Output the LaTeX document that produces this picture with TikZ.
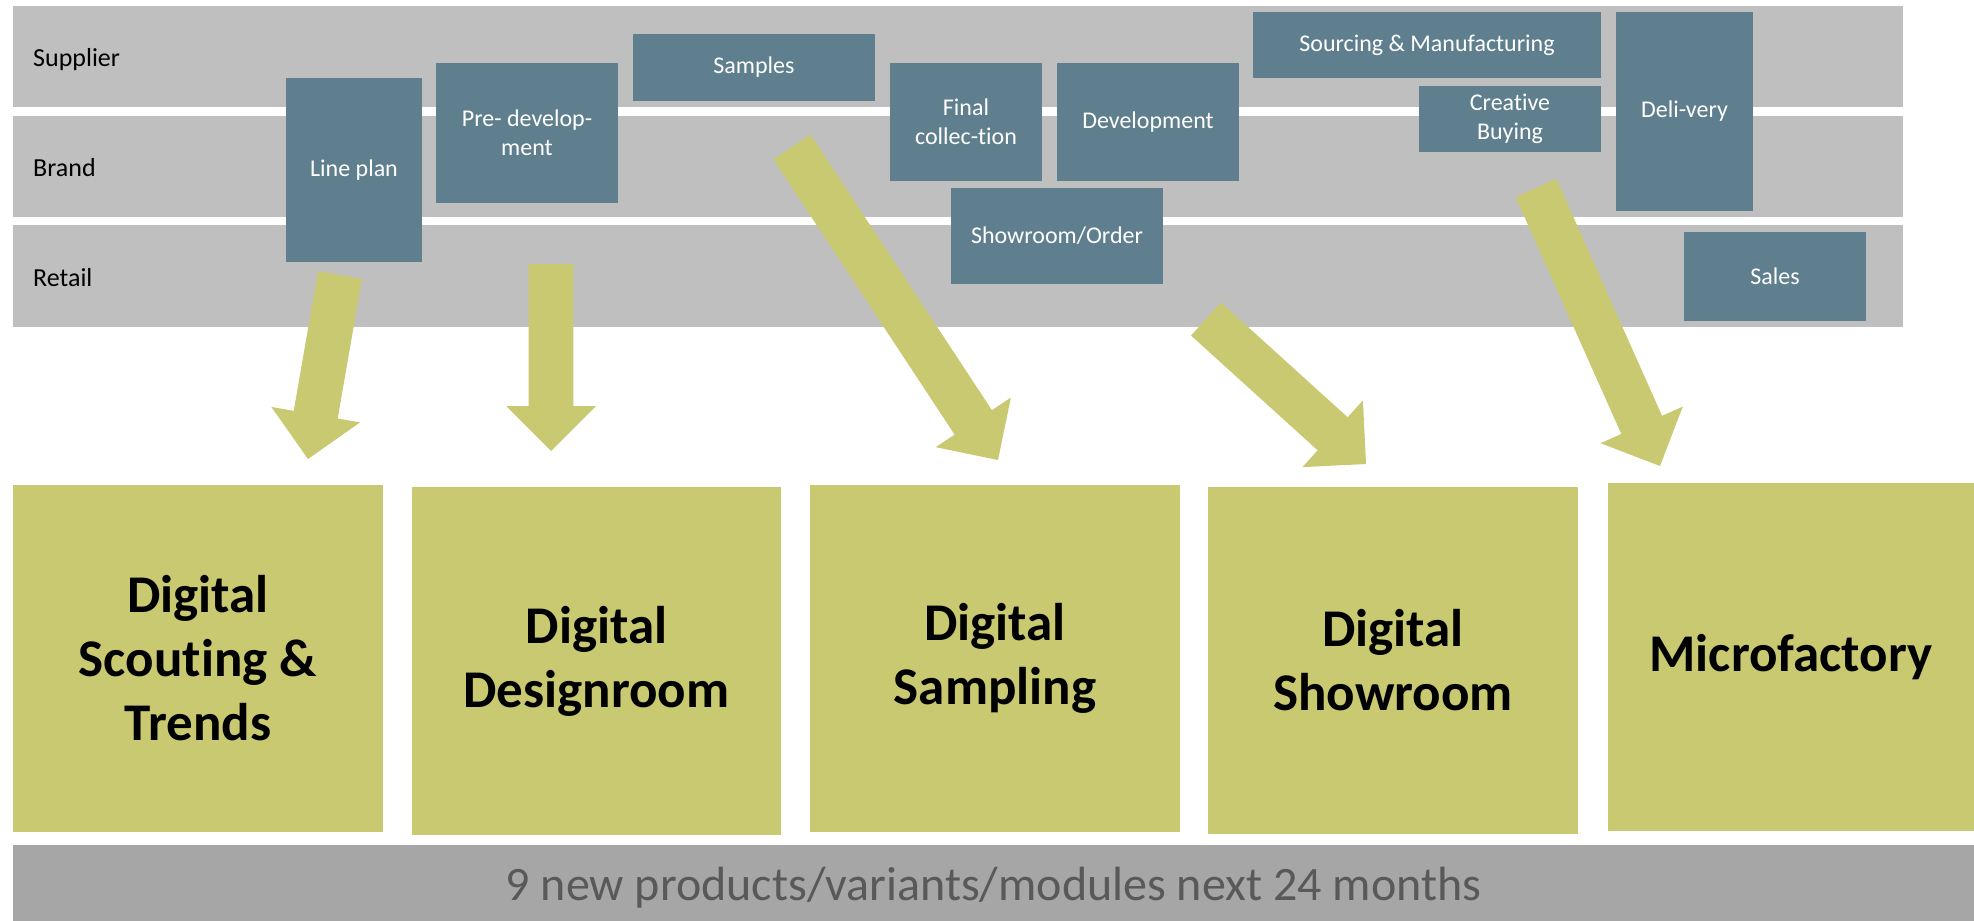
\documentclass[tikz,border=0pt]{standalone}
\usepackage{fontspec}
\setmainfont{Carlito}[Ligatures=NoCommon]
\usetikzlibrary{calc}
\definecolor{lanegray}{HTML}{BFBFBF}
\definecolor{slate}{HTML}{5F7F8F}
\definecolor{olive}{HTML}{C8C970}
\definecolor{bargray}{HTML}{A6A6A6}
\definecolor{bartext}{HTML}{595959}
% block arrow from tail centre #1 to tip #2
\newcommand{\blockarrow}[2]{%
  \coordinate (ba-b) at ($(#2)!45pt!(#1)$);
  \fill[arrowfill] ($(#1)!22.3pt!90:(#2)$) -- ($(ba-b)!22.3pt!-90:(#1)$)
    -- ($(ba-b)!45pt!-90:(#1)$) -- (#2) -- ($(ba-b)!45pt!90:(#1)$)
    -- ($(ba-b)!22.3pt!90:(#1)$) -- ($(#1)!22.3pt!-90:(#2)$) -- cycle;
}
\begin{document}
\begin{tikzpicture}[x=1pt,y=-1pt,
  span/.style args={#1/#2/#3/#4}{at={({(#1+#3)/2},{(#2+#4)/2})},
    minimum width={(#3)-(#1)}, minimum height={(#4)-(#2)}},
  lane/.style={fill=lanegray, inner sep=0pt},
  lanelabel/.style={anchor=base west, inner sep=0pt, font=\fontsize{26}{31}\selectfont},
  proc/.style={fill=slate, text=white, align=center, inner sep=0pt, font=\fontsize{24}{28.5}\selectfont},
  module/.style={fill=olive, align=center, inner sep=0pt, font=\bfseries\fontsize{53}{64}\selectfont},
  bar/.style={fill=bargray, inner sep=0pt},
  bartxt/.style={text=bartext, inner sep=0pt, anchor=base, font=\fontsize{48}{56}\selectfont},
  arrowfill/.style={fill=olive}]

\useasboundingbox (0,0) rectangle (1974,921);
\fill[white] (0,0) rectangle (1974,921);

% swim lanes
\node[lane, span=13/6/1903/107] (supplier) {};
\node[lane, span=13/116/1903/217] (brand) {};
\node[lane, span=13/225/1903/327] (retail) {};
\node[lanelabel] (lsup) at (33,66) {Supplier};
\node[lanelabel] (lbra) at (33,176) {Brand};
\node[lanelabel] (lret) at (33,286) {Retail};

% process boxes
\node[proc, span=286/78/422/262] (lineplan) {Line plan};
\node[proc, span=436/63/618/203] (predev) {Pre- develop-\\ment};
\node[proc, span=633/34/875/101] (samples) {Samples};
\node[proc, span=890/63/1042/181] (finalcol) {Final\\collec-tion};
\node[proc, span=1057/63/1239/181] (develop) {Development};
\node[proc, span=951/188/1163/284] (showorder) {Showroom/Order};
\node[proc, span=1253/12/1601/78] (sourcing) {Sourcing \& Manufacturing};
\node[proc, span=1419/86/1601/152] (creative) {Creative\\Buying};
\node[proc, span=1616/12/1753/211] (delivery) {Deli-very};
\node[proc, span=1684/232/1866/321] (sales) {Sales};

% arrows
\coordinate (t1) at (340,275); \coordinate (h1) at (308,459);
\coordinate (t2) at (551,264); \coordinate (h2) at (551,451);
\coordinate (t3) at (792,147); \coordinate (h3) at (998,460);
\coordinate (t4) at (1206,319); \coordinate (h4) at (1366,464);
\coordinate (t5) at (1536,188); \coordinate (h5) at (1660,466);
\blockarrow{t1}{h1}
\blockarrow{t2}{h2}
\blockarrow{t3}{h3}
\blockarrow{t4}{h4}
\blockarrow{t5}{h5}

% modules
\node[module, span=13/485/383/832] (scout) {Digital\\Scouting \&\\Trends};
\node[module, span=412/487/781/835] (design) {Digital\\Designroom};
\node[module, span=810/485/1180/832] (sampling) {Digital\\Sampling};
\node[module, span=1208/487/1578/834] (showroom) {Digital\\Showroom};
\node[module, span=1608/483/1974/831] (micro) {Microfactory};

% bottom bar
\node[bar, span=13/845/1974/921] (products) {};
\node[bartxt] (productstext) at (993.5,900) {9 new products/variants/modules next 24 months};
\end{tikzpicture}
\end{document}
